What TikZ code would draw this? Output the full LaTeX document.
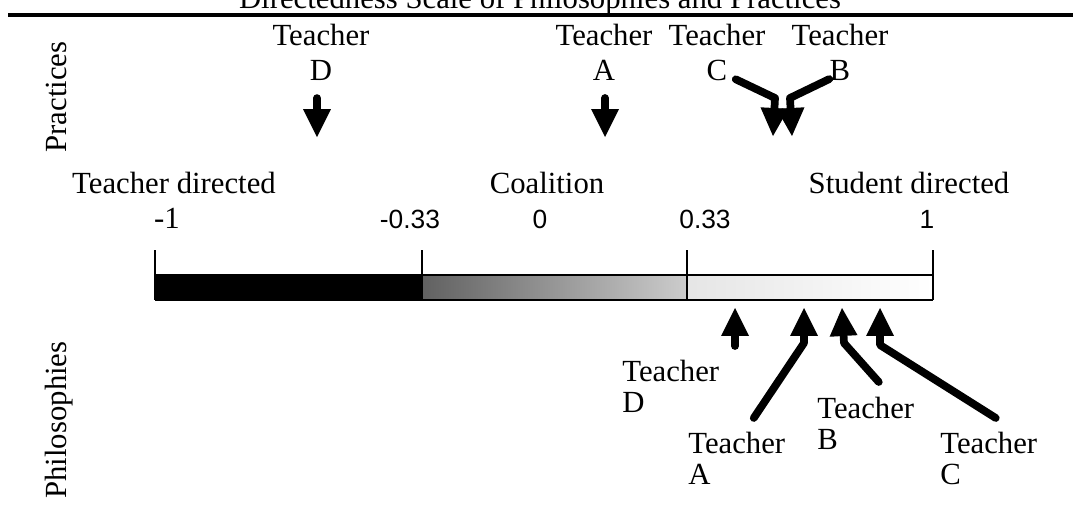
\documentclass[tikz,border=0pt]{standalone}
\usepackage{fontspec}
\setmainfont{Liberation Serif}
\newfontfamily\numfont{Liberation Sans}
\usetikzlibrary{arrows.meta}

\begin{document}
\begin{tikzpicture}[x=0.02cm, y=-0.02cm,
    txt/.style={inner sep=0pt, font=\fontsize{17.5}{21}\selectfont},
    num/.style={inner sep=0pt, anchor=base, font=\numfont\fontsize{15}{18}\selectfont},
    toplbl/.style={inner sep=0pt, anchor=north, align=center, font=\fontsize{17.5}{19.9}\selectfont},
    botlbl/.style={inner sep=0pt, anchor=north west, align=left, font=\fontsize{17.5}{17.6}\selectfont},
    fatarrow/.style={line width=4.4pt, line cap=round, line join=round, -{Triangle[width=0.56cm, length=0.56cm, line width=0pt]}},
    scaleline/.style={line width=1.6pt}
  ]
    \useasboundingbox (0,0) rectangle (1073,511);

    % title and rule
    \node[txt, anchor=base] (title) at (540,8) {Directedness Scale of Philosophies and Practices};
    \draw[scaleline, line width=1.9pt] (8,15) -- (1073,15);

    % side labels
    \node[txt, anchor=base, rotate=90] (practices) at (67,97) {Practices};
    \node[txt, anchor=base, rotate=90] (philo) at (67,420) {Philosophies};

    % region labels and scale values
    \node[txt, anchor=base] (tdir) at (174,193) {Teacher directed};
    \node[txt, anchor=base] (coal) at (547,193) {Coalition};
    \node[txt, anchor=base] (sdir) at (909,193) {Student directed};
    \node[txt, anchor=base] (vm1) at (167,228) {-1};
    \node[num] (vm033) at (410,228) {-0.33};
    \node[num] (v0) at (540,228) {0};
    \node[num] (v033) at (705,228) {0.33};
    \node[num] (v1) at (927,228) {1};

    % the bar
    \fill[black] (155,275) rectangle (422,300);
    \shade[left color=black!62, right color=black!20] (422,275) rectangle (687,300);
    \shade[left color=black!10, right color=white] (687,275) rectangle (933,300);
    \draw[scaleline] (155,275) -- (933,275);
    \draw[scaleline] (155,300) -- (933,300);
    \foreach \x/\n in {155/m1, 422/m033, 687/p033, 933/p1} {
      \draw[scaleline] (\x,250) coordinate (\n) -- (\x,300);
    }

    % practices (above the bar)
    \node[toplbl] (pD) at (321,24) {Teacher\\D};
    \node[toplbl] (pA) at (604,24) {Teacher\\A};
    \node[toplbl] (pC) at (717,24) {Teacher\\C};
    \node[toplbl] (pB) at (840,24) {Teacher\\B};
    \coordinate (pD-tip) at (317,137);
    \coordinate (pA-tip) at (605,137);
    \coordinate (pC-tip) at (773,136);
    \coordinate (pB-tip) at (792,136);
    \draw[fatarrow] (pD.south) ++(-4,17) -- (pD-tip);
    \draw[fatarrow] (pA.south) ++(1,17) -- (pA-tip);
    \draw[fatarrow] (pC.south east) ++(-30,-2) -- (775,98) -- (pC-tip);
    \draw[fatarrow] (pB.south west) ++(38,-2) -- (790,98) -- (pB-tip);

    % philosophies (below the bar)
    \node[botlbl] (hD) at (622,360) {Teacher\\D};
    \node[botlbl] (hB) at (817,397) {Teacher\\B};
    \node[botlbl] (hA) at (688,432) {Teacher\\A};
    \node[botlbl] (hC) at (940,432) {Teacher\\C};
    \coordinate (hD-tip) at (735,308);
    \coordinate (hA-tip) at (804,308);
    \coordinate (hB-tip) at (842,308);
    \coordinate (hC-tip) at (880,308);
    \draw[fatarrow] (735,346) -- (hD-tip);
    \draw[fatarrow] (hA.north) ++(17,-14) -- (804,343) -- (hA-tip);
    \draw[fatarrow] (hB.north) ++(13,-15) -- (844,343) -- (hB-tip);
    \draw[fatarrow] (hC.north) ++(7,-14) -- (880,345) -- (hC-tip);
  \end{tikzpicture}
\end{document}
